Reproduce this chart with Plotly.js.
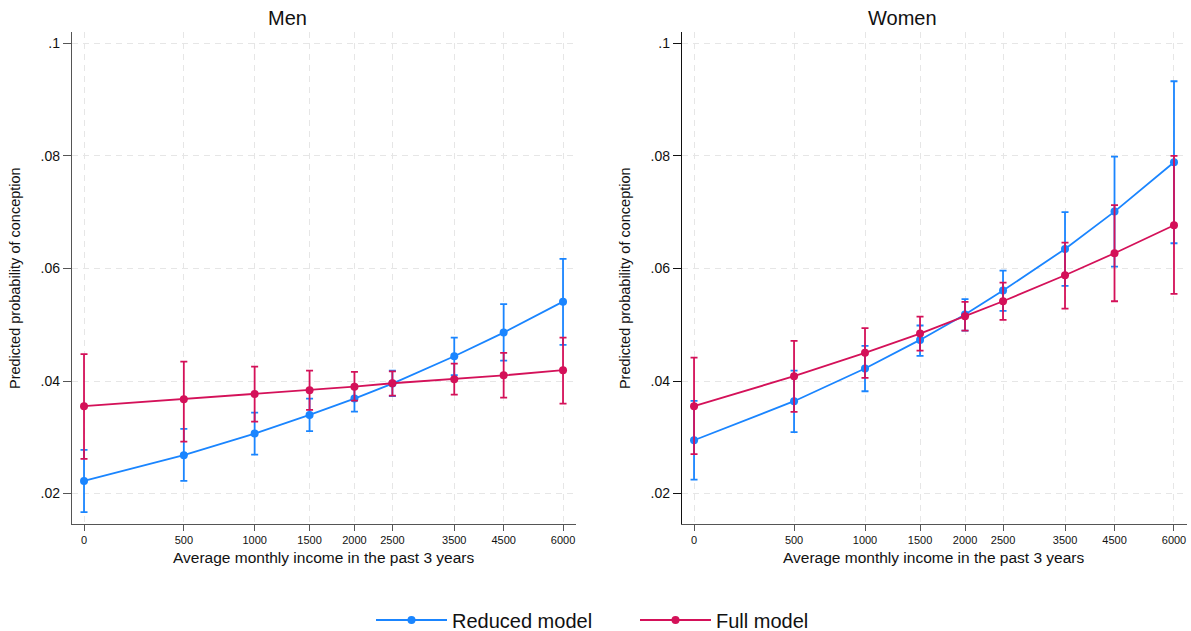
<!DOCTYPE html>
<html>
<head>
<meta charset="utf-8">
<script src="https://cdn.plot.ly/plotly-3.0.1.min.js"></script>
<style>html,body{margin:0;padding:0;background:#fff;}#chart{width:1191px;height:631px;}</style>
</head>
<body>
<div id="chart"></div>
<script>
// Income categories (x) and tick labels
const incomes = [0, 500, 1000, 1500, 2000, 2500, 3500, 4500, 6000];
const tickLabels = ['0', '500', '1000', '1500', '2000', '2500', '3500', '4500', '6000'];
const yTickVals = [0.02, 0.04, 0.06, 0.08, 0.1];
const yTickText = ['.02', '.04', '.06', '.08', '.1'];

// Men - reduced model
const menReduced   = [0.02225, 0.02682, 0.03066, 0.03398, 0.03688, 0.03954, 0.0444, 0.0486, 0.0541];
const menReducedLo = [0.01669, 0.02225, 0.02693, 0.03108, 0.03457, 0.0373, 0.04103, 0.04362, 0.04641];
const menReducedHi = [0.02776, 0.0315, 0.03439, 0.03688, 0.0392, 0.04185, 0.04771, 0.05364, 0.06169];
// Men - full model
const menFull   = [0.03553, 0.03677, 0.03771, 0.03837, 0.0390, 0.0396, 0.04032, 0.0410, 0.04192];
const menFullLo = [0.02616, 0.02924, 0.03279, 0.03487, 0.03652, 0.03741, 0.03759, 0.03705, 0.03599];
const menFullHi = [0.04476, 0.04345, 0.04256, 0.04185, 0.04162, 0.0417, 0.0431, 0.0450, 0.04771];
// Women - reduced model
const womenReduced   = [0.02948, 0.03641, 0.04222, 0.0473, 0.0518, 0.05606, 0.06346, 0.07009, 0.07886];
const womenReducedLo = [0.02249, 0.03091, 0.03818, 0.04446, 0.04895, 0.05245, 0.05689, 0.06032, 0.06447];
const womenReducedHi = [0.03647, 0.04185, 0.04624, 0.04986, 0.05453, 0.05962, 0.07, 0.07986, 0.09325];
// Women - full model
const womenFull   = [0.03553, 0.04085, 0.045, 0.04842, 0.05151, 0.05417, 0.05879, 0.0627, 0.06767];
const womenFullLo = [0.027, 0.03451, 0.04055, 0.0454, 0.04895, 0.05085, 0.05286, 0.05417, 0.05547];
const womenFullHi = [0.04416, 0.04712, 0.04938, 0.05144, 0.05405, 0.05748, 0.06459, 0.07123, 0.07998];

const BLUE = '#1a85ff';
const RED = '#d41159';
const FONT = 'Liberation Sans, Arial, Helvetica, sans-serif';

// x axis is scaled as log(income + 1000)
const xPos = incomes.map(v => v + 1000);

function trace(y, lo, hi, color, name, xa, ya, showlegend) {
  return {
    x: xPos, y: y, type: 'scatter', mode: 'lines+markers',
    name: name, legendgroup: name, showlegend: showlegend,
    xaxis: xa, yaxis: ya,
    line: {color: color, width: 1.8},
    marker: {color: color, size: 8},
    error_y: {
      type: 'data', symmetric: false,
      array: hi.map((h, i) => h - y[i]),
      arrayminus: lo.map((l, i) => y[i] - l),
      color: color, thickness: 1.8, width: 3.5
    },
    hoverinfo: 'x+y'
  };
}

const data = [
  trace(menReduced, menReducedLo, menReducedHi, BLUE, 'Reduced model', 'x', 'y', true),
  trace(menFull, menFullLo, menFullHi, RED, 'Full model', 'x', 'y', true),
  trace(womenReduced, womenReducedLo, womenReducedHi, BLUE, 'Reduced model', 'x2', 'y2', false),
  trace(womenFull, womenFullLo, womenFullHi, RED, 'Full model', 'x2', 'y2', false)
];

const xRange = [2.9788, 3.868];
const yRange = [0.0146, 0.102];

function xaxis(domain, anchor) {
  return {
    type: 'log', domain: domain, anchor: anchor, range: xRange,
    tickmode: 'array', tickvals: xPos, ticktext: tickLabels,
    tickfont: {family: FONT, size: 11, color: '#111'},
    ticks: 'outside', ticklen: 6, tickcolor: '#555', tickwidth: 1,
    showline: true, linecolor: '#555', linewidth: 1.2,
    showgrid: true, gridcolor: '#e6e6e6', gridwidth: 1, griddash: '6px,5px',
    zeroline: false, fixedrange: true
  };
}
function yaxis(domain, anchor, lc) {
  return {
    domain: domain, anchor: anchor, range: yRange,
    tickmode: 'array', tickvals: yTickVals, ticktext: yTickText,
    tickfont: {family: FONT, size: 14, color: '#111'},
    ticks: 'outside', ticklen: 8, tickcolor: lc, tickwidth: 1,
    showline: true, linecolor: lc, linewidth: 1.2,
    showgrid: true, gridcolor: '#e6e6e6', gridwidth: 1, griddash: '6px,5px',
    zeroline: false, fixedrange: true
  };
}

const yDom = [0.1696, 0.9493];
const layout = {
  width: 1191, height: 631,
  margin: {l: 0, r: 0, t: 0, b: 0, autoexpand: false},
  paper_bgcolor: '#fff', plot_bgcolor: '#fff',
  font: {family: FONT, color: '#111'},
  xaxis: xaxis([0.06045, 0.48363], 'y'),
  yaxis: yaxis(yDom, 'x', '#555'),
  xaxis2: xaxis([0.57263, 0.99664], 'y2'),
  yaxis2: yaxis(yDom, 'x2', '#111'),
  showlegend: true,
  legend: {
    orientation: 'h', x: 371 / 1191, xanchor: 'left', y: 0.0174, yanchor: 'middle',
    font: {family: FONT, size: 20, color: '#111'},
    itemwidth: 71, entrywidth: 178, bgcolor: 'rgba(0,0,0,0)'
  },
  annotations: [
    {text: 'Men', xref: 'paper', yref: 'paper', x: 0.2418, y: 0.9715, xanchor: 'center', yanchor: 'middle', showarrow: false, font: {family: FONT, size: 20, color: '#111'}},
    {text: 'Women', xref: 'paper', yref: 'paper', x: 0.7574, y: 0.9715, xanchor: 'center', yanchor: 'middle', showarrow: false, font: {family: FONT, size: 20, color: '#111'}},
    {text: 'Average monthly income in the past 3 years', xref: 'paper', yref: 'paper', x: 0.272, y: 0.1157, xanchor: 'center', yanchor: 'middle', showarrow: false, font: {family: FONT, size: 15.5, color: '#111'}},
    {text: 'Average monthly income in the past 3 years', xref: 'paper', yref: 'paper', x: 0.7842, y: 0.1157, xanchor: 'center', yanchor: 'middle', showarrow: false, font: {family: FONT, size: 15.5, color: '#111'}},
    {text: 'Predicted probability of conception', xref: 'paper', yref: 'paper', x: 0.0126, y: 0.5594, xanchor: 'center', yanchor: 'middle', textangle: -90, showarrow: false, font: {family: FONT, size: 14.5, color: '#111'}},
    {text: 'Predicted probability of conception', xref: 'paper', yref: 'paper', x: 0.5248, y: 0.5594, xanchor: 'center', yanchor: 'middle', textangle: -90, showarrow: false, font: {family: FONT, size: 14.5, color: '#111'}}
  ]
};

Plotly.newPlot('chart', data, layout, {displayModeBar: false, staticPlot: true});
</script>
</body>
</html>
